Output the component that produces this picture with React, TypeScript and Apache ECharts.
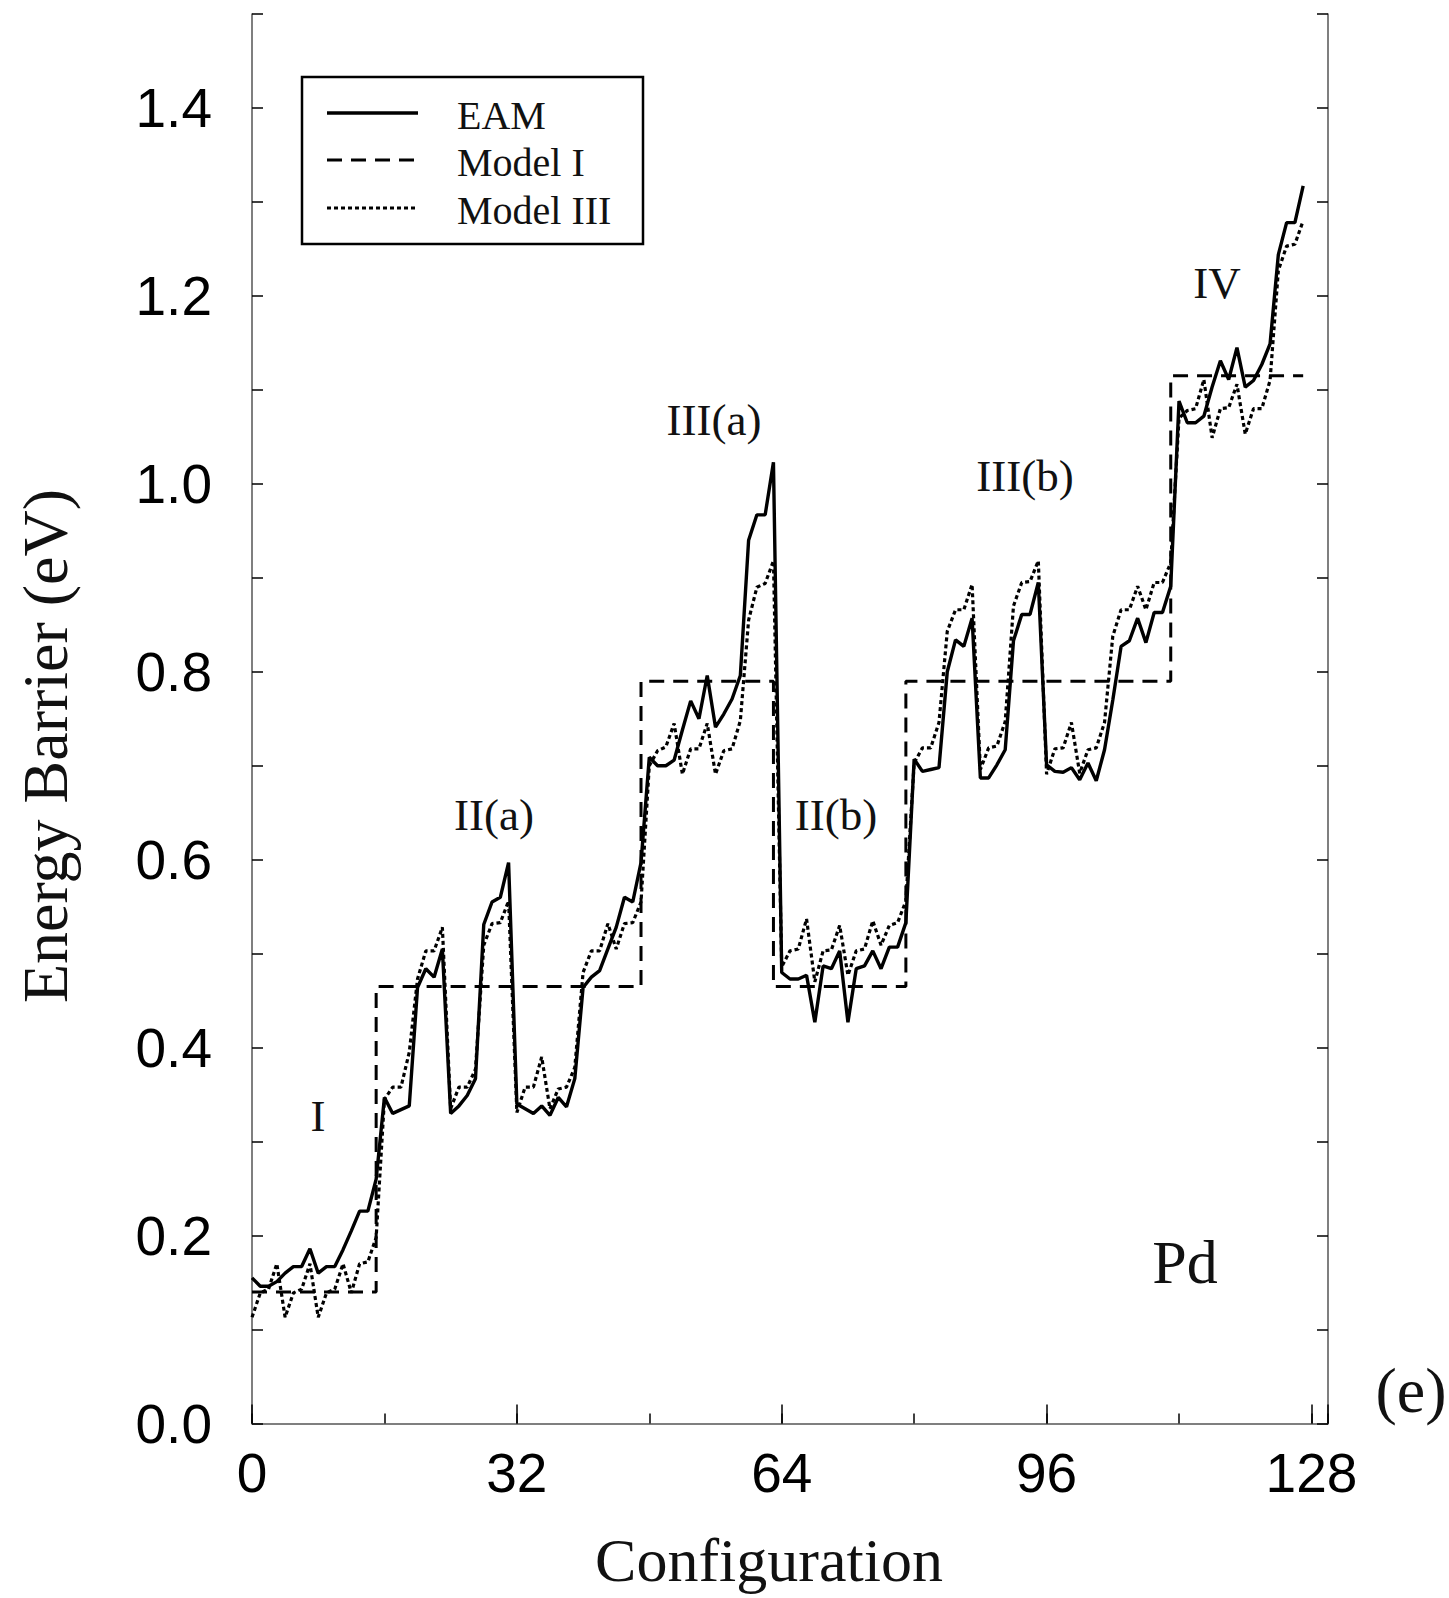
import React, { useEffect, useRef } from "react";
import * as echarts from "echarts";

// Energy barriers for the 128 configurations (index 0..127)
const eamBarrier: number[] = [
  0.155, 0.146, 0.146, 0.151, 0.160, 0.167, 0.167, 0.186,
  0.160, 0.167, 0.167, 0.185, 0.205, 0.226, 0.226, 0.260,
  0.347, 0.330, 0.334, 0.338, 0.464, 0.484, 0.475, 0.505,
  0.330, 0.338, 0.349, 0.367, 0.531, 0.555, 0.560, 0.597,
  0.340, 0.335, 0.330, 0.338, 0.328, 0.347, 0.337, 0.367,
  0.464, 0.475, 0.482, 0.505, 0.528, 0.560, 0.555, 0.597,
  0.709, 0.700, 0.700, 0.706, 0.738, 0.769, 0.750, 0.796,
  0.741, 0.755, 0.771, 0.796, 0.940, 0.967, 0.967, 1.023,
  0.480, 0.473, 0.473, 0.477, 0.427, 0.487, 0.484, 0.503,
  0.427, 0.484, 0.487, 0.503, 0.484, 0.507, 0.507, 0.533,
  0.707, 0.694, 0.696, 0.698, 0.800, 0.834, 0.827, 0.857,
  0.687, 0.687, 0.701, 0.717, 0.833, 0.861, 0.861, 0.895,
  0.701, 0.694, 0.693, 0.698, 0.685, 0.703, 0.684, 0.717,
  0.770, 0.827, 0.833, 0.857, 0.831, 0.863, 0.863, 0.891,
  1.088, 1.065, 1.065, 1.072, 1.103, 1.131, 1.111, 1.145,
  1.103, 1.110, 1.127, 1.149, 1.244, 1.278, 1.278, 1.317,
];

const modelIIIBarrier: number[] = [
  0.113, 0.139, 0.143, 0.170, 0.113, 0.139, 0.143, 0.170,
  0.113, 0.139, 0.143, 0.170, 0.139, 0.170, 0.172, 0.198,
  0.345, 0.358, 0.358, 0.395, 0.473, 0.503, 0.503, 0.528,
  0.335, 0.358, 0.358, 0.377, 0.509, 0.532, 0.533, 0.556,
  0.331, 0.358, 0.358, 0.390, 0.335, 0.356, 0.358, 0.379,
  0.480, 0.503, 0.503, 0.532, 0.505, 0.532, 0.533, 0.555,
  0.700, 0.716, 0.720, 0.745, 0.691, 0.718, 0.718, 0.745,
  0.691, 0.716, 0.718, 0.748, 0.855, 0.890, 0.894, 0.918,
  0.486, 0.503, 0.505, 0.537, 0.470, 0.503, 0.504, 0.530,
  0.477, 0.503, 0.505, 0.535, 0.509, 0.530, 0.533, 0.556,
  0.703, 0.719, 0.719, 0.746, 0.843, 0.866, 0.866, 0.893,
  0.696, 0.719, 0.721, 0.747, 0.870, 0.895, 0.896, 0.918,
  0.691, 0.718, 0.719, 0.746, 0.692, 0.717, 0.719, 0.746,
  0.838, 0.866, 0.866, 0.891, 0.866, 0.895, 0.895, 0.916,
  1.070, 1.078, 1.080, 1.111, 1.049, 1.080, 1.081, 1.106,
  1.053, 1.080, 1.080, 1.110, 1.227, 1.253, 1.255, 1.280,
];

// Model I gives one barrier per configuration class
const classNames: string[] = ["I", "II(a)", "III(a)", "II(b)", "III(b)", "IV"];
const classSizes: number[] = [16, 32, 16, 16, 32, 16];
const modelILevels: number[] = [0.14, 0.465, 0.79, 0.465, 0.79, 1.115];

const xTickLabels: number[] = [0, 32, 64, 96, 128];
const legendNames: string[] = ["EAM", "Model I", "Model III"];

const modelIBarrier: number[] = classSizes.flatMap((n, k) =>
  new Array(n).fill(modelILevels[k])
);

const pairs = (vals: number[]) => vals.map((v, i) => [i, v]);

const SERIF = '"Liberation Serif", "Times New Roman", serif';
const SANS = '"Liberation Sans", Arial, sans-serif';

const DASH = [15, 9];
const DOT = [4, 3];

export default function App() {
  const ref = useRef<HTMLDivElement>(null);

  useEffect(() => {
    if (!ref.current) return;
    const chart = echarts.init(ref.current, null, { renderer: "svg" });

    const yTick = {
      show: true,
      inside: true,
      length: 11,
      lineStyle: { color: "#000", width: 1.5 },
    };
    const axisLine = {
      show: true,
      onZero: false,
      lineStyle: { color: "#555", width: 1.5 },
    };

    // class labels placed over each group of configurations
    const classLabelPos: [number, number][] = [
      [318, 1116],
      [494, 815],
      [714, 420],
      [836, 815],
      [1025, 476],
      [1217, 283],
    ];

    const text = (
      t: string,
      x: number,
      y: number,
      size: number,
      align = "center",
      extra: any = {}
    ) => ({
      type: "text",
      x,
      y,
      ...extra,
      style: {
        text: t,
        fill: "#111",
        font: `${size}px ${SERIF}`,
        textAlign: align,
        textVerticalAlign: "middle",
      },
    });

    const legendRows = [113, 160, 208];
    const legendDash = [null, DASH, DOT];
    const legendWidth = [3.4, 3, 3.2];

    const graphic: any[] = [
      ...classNames.map((name, k) =>
        text(name, classLabelPos[k][0], classLabelPos[k][1], 45)
      ),
      text("Pd", 1185, 1262, 62),
      text("(e)", 1411, 1390, 64),
      text("Configuration", 769, 1560, 62),
      text("Energy Barrier (eV)", 45, 746, 64, "center", {
        rotation: Math.PI / 2,
      }),
      {
        type: "rect",
        shape: { x: 302, y: 77, width: 341, height: 167 },
        style: { fill: "#fff", stroke: "#000", lineWidth: 2.5 },
        z: 10,
      },
      ...legendNames.map((name, k) => ({
        type: "line",
        z: 11,
        shape: { x1: 327, y1: legendRows[k], x2: 418, y2: legendRows[k] },
        style: {
          stroke: "#000",
          lineWidth: legendWidth[k],
          lineDash: legendDash[k] || undefined,
        },
      })),
      ...legendNames.map((name, k) => ({
        ...text(name, 457, legendRows[k] + 2, 40, "left"),
        z: 11,
      })),
    ];

    chart.setOption({
      animation: false,
      backgroundColor: "#fff",
      grid: {
        left: 252,
        top: 14,
        width: 1076,
        height: 1409.5,
        containLabel: false,
        outerBoundsMode: "none",
      },
      xAxis: [
        {
          type: "value",
          min: 0,
          max: 130,
          interval: 32,
          position: "bottom",
          axisLine,
          axisTick: {
            show: true,
            inside: true,
            length: 19,
            lineStyle: { color: "#000", width: 1.5 },
          },
          axisLabel: {
            margin: 22,
            fontSize: 55,
            fontFamily: SANS,
            color: "#000",
            formatter: (v: number) =>
              xTickLabels.includes(Math.round(v)) ? String(Math.round(v)) : "",
          },
          splitLine: { show: false },
        },
        {
          type: "value",
          min: 0,
          max: 130,
          interval: 16,
          position: "bottom",
          axisLine: { show: false, onZero: false },
          axisTick: {
            show: true,
            inside: true,
            length: 10,
            lineStyle: { color: "#000", width: 1.5 },
          },
          axisLabel: { show: false },
          splitLine: { show: false },
        },
      ],
      yAxis: [
        {
          type: "value",
          min: 0,
          max: 1.5,
          interval: 0.1,
          position: "left",
          axisLine,
          axisTick: yTick,
          axisLabel: {
            margin: 40,
            fontSize: 55,
            fontFamily: SANS,
            color: "#000",
            formatter: (v: number) =>
              Math.round(v * 10) % 2 === 0 && v < 1.45 ? v.toFixed(1) : "",
          },
          splitLine: { show: false },
        },
        {
          type: "value",
          min: 0,
          max: 1.5,
          interval: 0.1,
          position: "right",
          axisLine,
          axisTick: yTick,
          axisLabel: { show: false },
          splitLine: { show: false },
        },
      ],
      series: [
        {
          name: "Model I",
          type: "line",
          data: pairs(modelIBarrier),
          step: "start",
          symbol: "none",
          xAxisIndex: 0,
          yAxisIndex: 0,
          lineStyle: { color: "#000", width: 3, type: DASH, cap: "butt" },
          z: 2,
        },
        {
          name: "Model III",
          type: "line",
          data: pairs(modelIIIBarrier),
          symbol: "none",
          xAxisIndex: 0,
          yAxisIndex: 0,
          lineStyle: { color: "#000", width: 3.2, type: DOT, cap: "butt" },
          z: 3,
        },
        {
          name: "EAM",
          type: "line",
          data: pairs(eamBarrier),
          symbol: "none",
          xAxisIndex: 0,
          yAxisIndex: 0,
          lineStyle: { color: "#000", width: 3.4 },
          z: 4,
        },
      ],
      graphic,
    });

    return () => chart.dispose();
  }, []);

  return (
    <div
      ref={ref}
      style={{
        position: "absolute",
        left: 0,
        top: 0,
        width: 1449,
        height: 1598,
        background: "#fff",
      }}
    />
  );
}
